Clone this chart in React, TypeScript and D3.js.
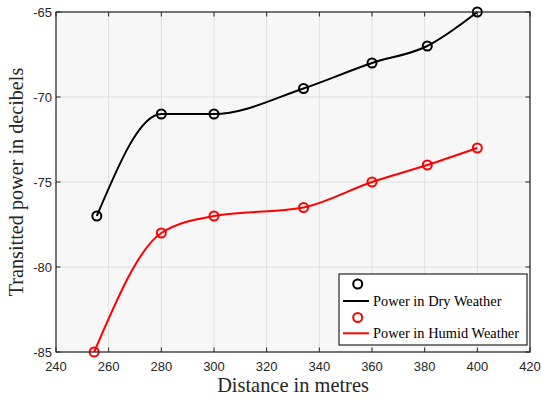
import React from "react";
import * as d3 from "d3";

const distDry = [255.5, 280, 300, 334, 360, 381, 400];
const powerDry = [-77, -71, -71, -69.5, -68, -67, -65];
const distHumid = [254.5, 280, 300, 334, 360, 381, 400];
const powerHumid = [-85, -78, -77, -76.5, -75, -74, -73];
const xTicks = [240, 260, 280, 300, 320, 340, 360, 380, 400, 420];
const yTicks = [-85, -80, -75, -70, -65];
const seriesNames = ["Power in Dry Weather", "Power in Humid Weather"];
const seriesColors = ["#000000", "#ff0000"];

const W = 541;
const H = 396;
const M = { left: 56, right: 11, top: 12, bottom: 44 };

export default function App() {
  const x = d3.scaleLinear().domain([240, 420]).range([M.left, W - M.right]);
  const y = d3.scaleLinear().domain([-85, -65]).range([H - M.bottom, M.top]);
  const line = d3
    .line<[number, number]>()
    .x((d) => x(d[0]))
    .y((d) => y(d[1]))
    .curve(d3.curveMonotoneX);

  const series = [
    distDry.map((d, i) => [d, powerDry[i]] as [number, number]),
    distHumid.map((d, i) => [d, powerHumid[i]] as [number, number]),
  ];

  const x0 = M.left, x1 = W - M.right, y0 = M.top, y1 = H - M.bottom;
  const axisColor = "#262626";
  const tick = 4.5;

  const lg = { x: 339, y: 274, w: 188, h: 71 };

  return (
    <svg width={W} height={H} style={{ position: "absolute", left: 0, top: 0, background: "#fff" }}>
      <rect x={x0} y={y0} width={x1 - x0} height={y1 - y0} fill="#f7f7f7" />
      {xTicks.map((t) => (
        <line key={"gx" + t} x1={x(t)} x2={x(t)} y1={y0} y2={y1} stroke="#dedede" strokeWidth={1} />
      ))}
      {yTicks.map((t) => (
        <line key={"gy" + t} x1={x0} x2={x1} y1={y(t)} y2={y(t)} stroke="#dedede" strokeWidth={1} />
      ))}
      {series.map((s, i) => (
        <g key={"s" + i}>
          <path d={line(s) || ""} fill="none" stroke={seriesColors[i]} strokeWidth={2} />
          {s.map((p, j) => (
            <circle key={j} cx={x(p[0])} cy={y(p[1])} r={4.5} fill="none" stroke={seriesColors[i]} strokeWidth={2} />
          ))}
        </g>
      ))}
      <rect x={x0} y={y0} width={x1 - x0} height={y1 - y0} fill="none" stroke={axisColor} strokeWidth={1.2} />
      {xTicks.map((t) => (
        <g key={"tx" + t}>
          <line x1={x(t)} x2={x(t)} y1={y1} y2={y1 - tick} stroke={axisColor} strokeWidth={1} />
          <line x1={x(t)} x2={x(t)} y1={y0} y2={y0 + tick} stroke={axisColor} strokeWidth={1} />
          <text x={x(t)} y={y1 + 19} textAnchor="middle" fontFamily="Liberation Sans, Arial, sans-serif" fontSize={13} fill={axisColor}>
            {t}
          </text>
        </g>
      ))}
      {yTicks.map((t) => (
        <g key={"ty" + t}>
          <line x1={x0} x2={x0 + tick} y1={y(t)} y2={y(t)} stroke={axisColor} strokeWidth={1} />
          <line x1={x1} x2={x1 - tick} y1={y(t)} y2={y(t)} stroke={axisColor} strokeWidth={1} />
          <text x={x0 - 4} y={y(t) + 4.5} textAnchor="end" fontFamily="Liberation Sans, Arial, sans-serif" fontSize={13} fill={axisColor}>
            {t}
          </text>
        </g>
      ))}
      <text x={(x0 + x1) / 2} y={392} textAnchor="middle" fontFamily="Liberation Serif, Times New Roman, serif" fontSize={20.4} fill={axisColor}>
        Distance in metres
      </text>
      <text
        transform={`translate(23, ${(y0 + y1) / 2}) rotate(-90)`}
        textAnchor="middle"
        fontFamily="Liberation Serif, Times New Roman, serif"
        fontSize={20.2}
        fill={axisColor}
      >
        Transitted power in decibels
      </text>
      <g>
        <rect x={lg.x} y={lg.y} width={lg.w} height={lg.h} fill="#fff" stroke={axisColor} strokeWidth={1.2} />
        {seriesNames.map((n, i) => (
          <g key={"lg" + i}>
            <circle cx={357.7} cy={284 + i * 33.5} r={4.5} fill="none" stroke={seriesColors[i]} strokeWidth={2} />
            <line x1={343} x2={369} y1={301 + i * 32.3} y2={301 + i * 32.3} stroke={seriesColors[i]} strokeWidth={2} />
            <text x={373} y={305.5 + i * 32.3} fontFamily="Liberation Serif, Times New Roman, serif" fontSize={14.4} fill="#000">
              {n}
            </text>
          </g>
        ))}
      </g>
    </svg>
  );
}
